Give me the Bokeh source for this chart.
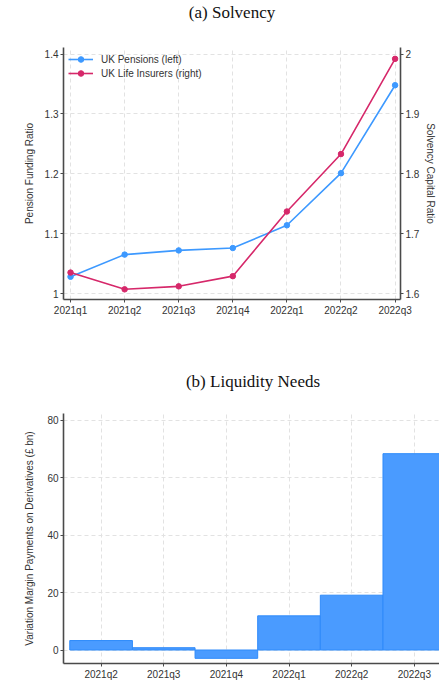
from bokeh.plotting import figure
from bokeh.layouts import column
from bokeh.models import (Range1d, LinearAxis, FixedTicker, Legend, LegendItem, Title)
from bokeh.embed import file_html
from bokeh.resources import INLINE

# ---- data ----
quarters = ["2021q1", "2021q2", "2021q3", "2021q4", "2022q1", "2022q2", "2022q3"]
pension_funding = [1.028, 1.065, 1.072, 1.076, 1.114, 1.201, 1.348]
life_solvency = [1.635, 1.607, 1.612, 1.629, 1.737, 1.833, 1.992]

vm_quarters = ["2021q2", "2021q3", "2021q4", "2022q1", "2022q2", "2022q3"]
vm_payments = [3.3, 0.8, -2.9, 11.9, 19.1, 68.4]

left_ticks = [1.0, 1.1, 1.2, 1.3, 1.4]
right_ticks = [1.6, 1.7, 1.8, 1.9, 2.0]
vm_ticks = [0, 20, 40, 60, 80]

BLUE = "#3d99ff"
RED = "#d6286a"
BAR_FILL = "#4a9bff"
BAR_LINE = "#2f8bfa"
AXIS = "#4a4a4a"
TXT = "#333333"
GRID = "#e2e2e2"
SANS = "Liberation Sans"
SERIF = "Liberation Serif"


def style_axis(ax, size="10px"):
    ax.axis_line_color = AXIS
    ax.axis_line_width = 1.6
    ax.major_tick_line_color = AXIS
    ax.major_tick_out = 3
    ax.major_tick_in = 0
    ax.minor_tick_line_color = None
    ax.major_label_text_font = SANS
    ax.major_label_text_font_size = size
    ax.major_label_text_color = TXT
    ax.major_label_standoff = 2
    ax.axis_label_text_font = SANS
    ax.axis_label_text_font_size = "10px"
    ax.axis_label_text_font_style = "normal"
    ax.axis_label_text_color = TXT


def style_grid(p):
    for g in (p.xgrid, p.ygrid):
        g.grid_line_color = GRID
        g.grid_line_dash = "4 3"
        g.grid_line_width = 1


def panel_title(text, valign, standoff, offset=0):
    return Title(text=text, align="center", vertical_align=valign, standoff=standoff,
                 offset=offset, text_font=SERIF, text_font_size="17px",
                 text_font_style="normal", text_color="#111111")


# ---- (a) Solvency ----
xs = list(range(len(quarters)))
top = figure(width=439, height=340, output_backend="svg", toolbar_location=None,
             x_range=Range1d(-0.13, 6.1), y_range=Range1d(0.990, 1.411),
             min_border_left=63, min_border_right=33, min_border_top=46,
             min_border_bottom=41, outline_line_color=None)
# blank strip between the frame and the heading, so the heading sits near the top edge
top.add_layout(Title(text=" ", text_font_size="1px", standoff=22), "above")
top.title = panel_title("(a) Solvency", "bottom", 1)
top.extra_y_ranges = {"right": Range1d(1.590, 2.011)}

top.xaxis.ticker = FixedTicker(ticks=xs)
top.xaxis.major_label_overrides = {i: q for i, q in enumerate(quarters)}
top.yaxis.ticker = FixedTicker(ticks=left_ticks)
top.yaxis.major_label_overrides = {1.0: "1", 1.1: "1.1", 1.2: "1.2", 1.3: "1.3", 1.4: "1.4"}
top.yaxis.axis_label = "Pension Funding Ratio"
top.yaxis.axis_label_standoff = 7

raxis = LinearAxis(y_range_name="right", axis_label="Solvency Capital Ratio")
raxis.ticker = FixedTicker(ticks=right_ticks)
raxis.major_label_overrides = {1.6: "1.6", 1.7: "1.7", 1.8: "1.8", 1.9: "1.9", 2.0: "2"}
raxis.axis_label_standoff = 3
top.add_layout(raxis, "right")

for ax in top.xaxis + top.yaxis + [raxis]:
    style_axis(ax)
style_grid(top)

l1 = top.line(xs, pension_funding, line_color=BLUE, line_width=1.6)
m1 = top.scatter(xs, pension_funding, size=5.5, fill_color=BLUE, line_color=BLUE)
l2 = top.line(xs, life_solvency, line_color=RED, line_width=1.6, y_range_name="right")
m2 = top.scatter(xs, life_solvency, size=5.5, fill_color=RED, line_color=RED,
                 y_range_name="right")

legend = Legend(items=[LegendItem(label="UK Pensions (left)", renderers=[l1, m1]),
                       LegendItem(label="UK Life Insurers (right)", renderers=[l2, m2])],
                location="top_left", margin=5, padding=2, spacing=0,
                glyph_width=25, glyph_height=14, label_height=14, label_standoff=8,
                label_text_font=SANS, label_text_font_size="10px",
                label_text_color=TXT, background_fill_alpha=0,
                border_line_color=None)
top.add_layout(legend)

# ---- (b) Liquidity Needs ----
bx = list(range(len(vm_quarters)))
bottom = figure(width=439, height=342, frame_width=379, frame_height=250,
                output_backend="svg", toolbar_location=None,
                x_range=Range1d(-0.6, 5.45), y_range=Range1d(-4.7, 82.4),
                min_border_left=60, min_border_right=0, min_border_top=73,
                min_border_bottom=16, outline_line_color=None)
bottom.title = panel_title("(b) Liquidity Needs", "bottom", 46, offset=-15)
bottom.xaxis.ticker = FixedTicker(ticks=bx)
bottom.xaxis.major_label_overrides = {i: q for i, q in enumerate(vm_quarters)}
bottom.yaxis.ticker = FixedTicker(ticks=vm_ticks)
bottom.yaxis.axis_label = "Variation Margin Payments on Derivatives (£ bn)"
bottom.yaxis.axis_label_standoff = 9
for ax in bottom.xaxis + bottom.yaxis:
    style_axis(ax)
style_grid(bottom)

bottom.vbar(x=bx, top=vm_payments, bottom=0, width=1.0,
            fill_color=BAR_FILL, line_color=BAR_LINE, line_width=1)

page = column(top, bottom, spacing=0)
open("out.html", "w").write(file_html(page, INLINE))
